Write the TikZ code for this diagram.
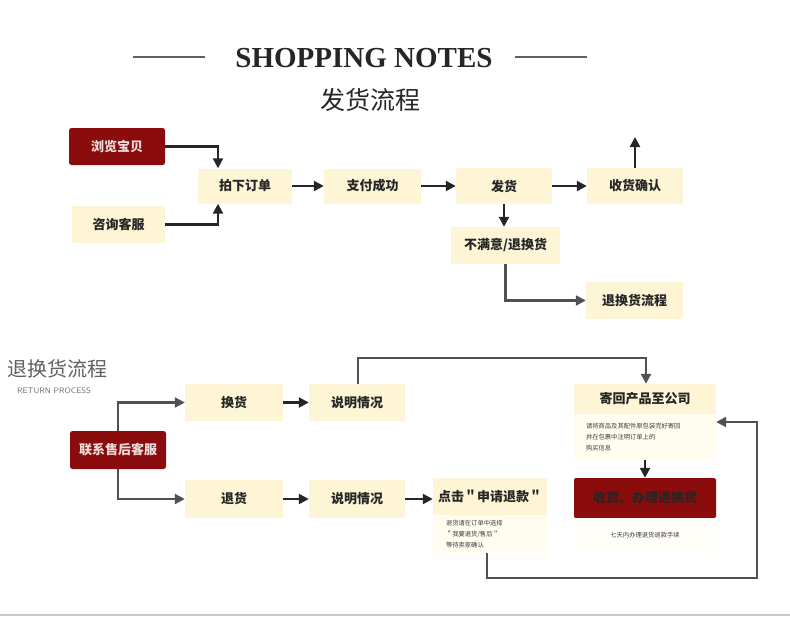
\documentclass[tikz,border=0pt]{standalone}
\usepackage{fontspec}
\setmainfont{Liberation Serif}
\newfontfamily\cjk{Noto Sans CJK SC}
\usetikzlibrary{arrows.meta}
\definecolor{cream}{HTML}{FDF5D6}
\definecolor{pale}{HTML}{FFFCF0}
\definecolor{dred}{HTML}{8A0C0C}
\definecolor{ink}{HTML}{262626}
\tikzset{
  cbox/.style={fill=cream, draw=none, inner sep=0pt, font=\cjk\bfseries\fontsize{13}{15}\selectfont, text=ink},
  rbox/.style={fill=dred, draw=none, rounded corners=2.5pt, inner sep=0pt, font=\cjk\bfseries\fontsize{13}{15}\selectfont, text=white!85!dred},
  dbox/.style={fill=pale, draw=none, inner xsep=12pt, inner ysep=0pt, font=\cjk\fontsize{6.3}{11}\selectfont, text=ink!90, align=left},
  arr/.style={draw=ink, line width=2.3pt, -{Triangle[length=10pt,width=10pt]}},
  ln/.style={draw=ink!80, line width=2.2pt, -{Triangle[length=10pt,width=10pt]}},
}
\begin{document}
\begin{tikzpicture}[x=1pt,y=-1pt]
\useasboundingbox (0,0) rectangle (790,638);
% header
\draw[gray!75!black, line width=2.5pt] (133,57) -- (205,57);
\draw[gray!75!black, line width=2.5pt] (515,57) -- (587,57);
\node[font=\bfseries\fontsize{29}{31}\selectfont, text=ink, inner sep=0pt] (title) at (364,58) {SHOPPING NOTES};
\node[font=\cjk\fontsize{25}{27}\selectfont, text=ink, inner sep=0pt] (sub) at (370,100) {发货流程};
% top flow
\node[rbox, minimum width=96, minimum height=37] (b1) at (117,146.5) {浏览宝贝};
\node[cbox, minimum width=94, minimum height=35] (b2) at (245,186) {拍下订单};
\node[cbox, minimum width=93, minimum height=37] (b3) at (118.5,224.5) {咨询客服};
\node[cbox, minimum width=97, minimum height=35] (b4) at (372.5,186) {支付成功};
\node[cbox, minimum width=96, minimum height=36] (b5) at (504,186) {发货};
\node[cbox, minimum width=96, minimum height=36] (b6) at (635,186) {收货确认};
\node[cbox, minimum width=109, minimum height=37] (b7) at (505.5,245.5) {不满意/退换货};
\node[cbox, minimum width=97, minimum height=37] (b8) at (634.5,300.5) {退换货流程};
\coordinate (b6up) at (635,137);
\draw[arr] (b1.east) -| ([xshift=-27pt]b2.north);
\draw[arr] (b3.east) -| ([xshift=-27pt]b2.south);
\draw[arr] (b2.east) -- (b4.west);
\draw[arr] (b4.east) -- (b5.west);
\draw[arr] (b5.east) -- (b6.west);
\draw[arr] (b6.north) -- (b6up);
\draw[arr] (b5.south) -- (b5.south |- b7.north);
\draw[ln] (b7.south) |- (b8.west);
% return process
\node[font=\cjk\fontsize{20}{22}\selectfont, text=gray!75!black, inner sep=0pt] (t2) at (58,369) {退换货流程};
\node[font=\sffamily\fontsize{8}{9}\selectfont, text=gray!90!black, inner sep=0pt] (t3) at (54,391) {RETURN PROCESS};
\node[rbox, minimum width=96, minimum height=38] (c1) at (118,450) {联系售后客服};
\node[cbox, minimum width=98, minimum height=37] (c2) at (234,402.5) {换货};
\node[cbox, minimum width=96, minimum height=37] (c3) at (357,402.5) {说明情况};
\node[cbox, minimum width=98, minimum height=38] (c4) at (234,499) {退货};
\node[cbox, minimum width=96, minimum height=38] (c5) at (357,499) {说明情况};
\node[cbox, minimum width=114, minimum height=37] (c6) at (490,496.5) {点击＂申请退款＂};
\node[dbox, minimum width=114, minimum height=38, text width=88] (c6d) at (490,534) {退货请在订单中选择\\＂我要退货/售后＂\\等待卖家确认};
\node[cbox, minimum width=142, minimum height=30] (c7) at (645,399) {寄回产品至公司};
\node[dbox, minimum width=142, minimum height=46, text width=118] (c7d) at (645,437) {请将商品及其配件原包装完好寄回\\并在包裹中注明订单上的\\购买信息};
\node[rbox, rounded corners=1.5pt, minimum width=142, minimum height=40, text=ink] (c8) at (645,498) {收货、办理退换货};
\node[dbox, fill=white!60!pale, minimum width=142, minimum height=35, align=center, text width=118] (c8d) at (645,535.5) {七天内办理退货退款手续};
\coordinate (rb) at (757,578);
\draw[ln] (c1.north) |- (c2.west);
\draw[ln] (c1.south) |- (c4.west);
\draw[arr] (c2.east) -- (c3.west);
\draw[arr] (c4.east) -- (c5.west);
\draw[arr] (c5.east) -- (c5.east -| c6.west);
\draw[ln] ([xshift=1pt]c3.north) -- ++(0,-26) -| ([xshift=1pt]c7.north);
\draw[arr] (c7d.south) -- (c8.north);
\draw[ln] ([xshift=-3pt]c6d.south) |- (rb) |- ([yshift=15pt]c7d.east);
% bottom rule
\draw[gray!45, line width=2pt] (0,615) -- (790,615);
\end{tikzpicture}
\end{document}
